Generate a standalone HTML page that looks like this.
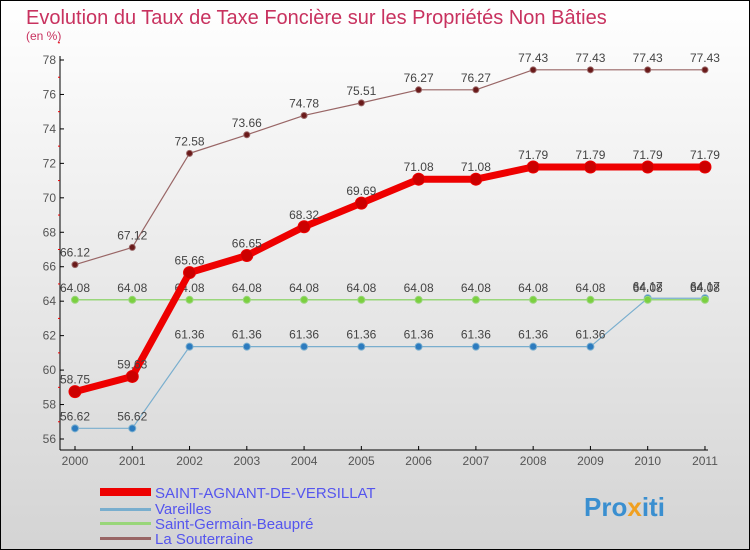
<!DOCTYPE html>
<html><head><meta charset="utf-8"><style>
body{margin:0}
#c{width:750px;height:550px;position:relative;box-sizing:border-box;border:1px solid #000;background:linear-gradient(#fff,#d4d4d4);overflow:hidden;font-family:"Liberation Sans",sans-serif}
</style></head><body>
<div id="c">
<svg id="s" width="750" height="550" style="position:absolute;left:-1px;top:-1px">
<text x="26" y="24" font-size="20" fill="#c8325f">Evolution du Taux de Taxe Foncière sur les Propriétés Non Bâties</text>
<text x="26" y="40" font-size="12" fill="#c8325f">(en %)</text>
<g id="g"></g>
<g>
<rect x="100" y="488" width="51" height="8" fill="#e00"/>
<text x="155" y="498" font-size="15" fill="#5555ee">SAINT-AGNANT-DE-VERSILLAT</text>
<rect x="100" y="508" width="51" height="3" fill="#79aece"/>
<text x="155" y="514" font-size="15" fill="#5555ee">Vareilles</text>
<rect x="100" y="522" width="51" height="3" fill="#99d67a"/>
<text x="155" y="529" font-size="15" fill="#5555ee">Saint-Germain-Beaupré</text>
<rect x="100" y="537" width="51" height="3" fill="#996666"/>
<text x="155" y="544" font-size="15" fill="#5555ee">La Souterraine</text>
</g>
<text x="584" y="516" font-size="26" font-weight="bold" fill="#3a8fd0">Pro<tspan fill="#f0a020">x</tspan>iti</text>
</svg>
</div>
<script>
const years=[2000,2001,2002,2003,2004,2005,2006,2007,2008,2009,2010,2011];
const yTicks=[56,58,60,62,64,66,68,70,72,74,76,78];
const saintAgnant=[58.75,59.63,65.66,66.65,68.32,69.69,71.08,71.08,71.79,71.79,71.79,71.79];
const vareilles=[56.62,56.62,61.36,61.36,61.36,61.36,61.36,61.36,61.36,61.36,64.17,64.17];
const saintGermain=[64.08,64.08,64.08,64.08,64.08,64.08,64.08,64.08,64.08,64.08,64.08,64.08];
const laSouterraine=[66.12,67.12,72.58,73.66,74.78,75.51,76.27,76.27,77.43,77.43,77.43,77.43];
const NS="http://www.w3.org/2000/svg";
const g=document.getElementById('g');
const X=i=>75+i*57.27;
const Y=v=>439-(v-56)*(379/22);
function el(t,a){const e=document.createElementNS(NS,t);for(const k in a)e.setAttribute(k,a[k]);g.appendChild(e);return e;}
let ax=el('line',{x1:60,y1:56,x2:60,y2:450,stroke:'#000'});


let bx=el('line',{x1:60,y1:450,x2:708,y2:450,stroke:'#000'});


yTicks.forEach(v=>{
 el('line',{x1:60,x2:64,y1:Y(v),y2:Y(v),stroke:'#000'});
 el('line',{x1:58,x2:60,y1:Y(v+1),y2:Y(v+1),stroke:'#e00'});
 const t=el('text',{x:56,y:Y(v)+4,'font-size':12,fill:'#555','text-anchor':'end'});t.textContent=v;
 
 
});
years.forEach((yr,i)=>{
 el('line',{x1:X(i),x2:X(i),y1:446,y2:450,stroke:'#000'});
 const t=el('text',{x:X(i),y:465,'font-size':12,fill:'#555','text-anchor':'middle'});t.textContent=yr;
 
 
});
function series(name,vals,color,w,r,dot){
 const p=el('polyline',{points:vals.map((v,i)=>X(i)+','+Y(v)).join(' '),fill:'none',stroke:color,'stroke-width':w,'stroke-linejoin':'round'});
 
 
 vals.forEach((v,i)=>{
  const c=el('circle',{cx:X(i),cy:Y(v),r:r,fill:dot,stroke:color,'stroke-width':1});
  
  
  const t=el('text',{x:X(i),y:Y(v)-8,'font-size':12,fill:'#444','text-anchor':'middle'});t.textContent=v.toFixed(2);
  
  
 });
}
series('la-souterraine',laSouterraine,'#996666',1.2,3,'#6a1a1a');
series('vareilles',vareilles,'#79aece',1.2,3.5,'#2c7bbf');
series('saint-germain',saintGermain,'#99d67a',1.5,3.5,'#7bd040');
series('saint-agnant',saintAgnant,'#ee0000',7,6,'#cc0000');
</script>
</body></html>
